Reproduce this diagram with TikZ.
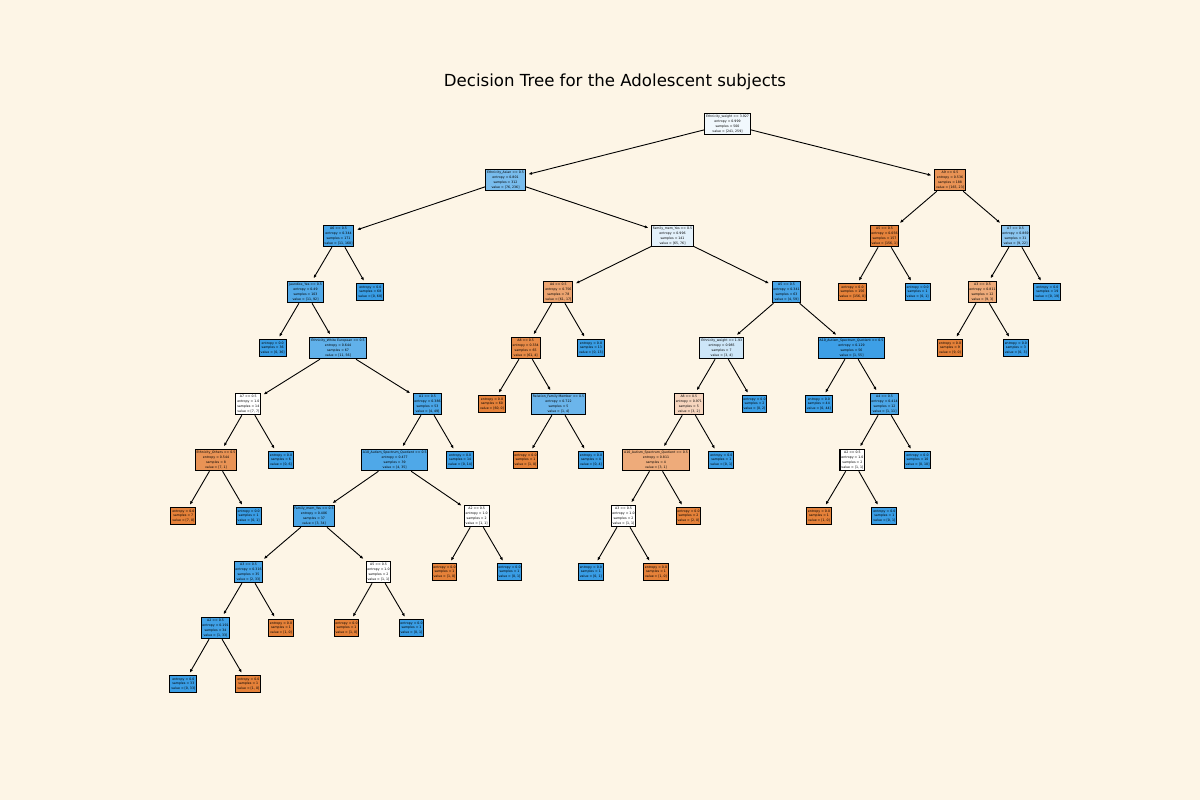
\documentclass[tikz,border=0pt]{standalone}
\usepackage{fontspec}
\setmainfont{DejaVu Sans}
\usetikzlibrary{arrows.meta}
\definecolor{bgc}{RGB}{253,245,230}
\definecolor{cO}{RGB}{229,129,57}
\definecolor{cB}{RGB}{57,157,229}
\tikzset{
  tn/.style={draw=black, line width=0.75pt, rectangle, align=center, inner xsep=1pt, inner ysep=1.5pt,
             font=\fontsize{2.3}{3.5}\selectfont},
  conn/.style={line width=0.65pt, -{Latex[length=2.6pt,width=2.2pt]}, shorten >=2pt},
}
\begin{document}
\begin{tikzpicture}[x=0.7227pt, y=-0.7227pt]
\fill[bgc] (0,0) rectangle (1200,800);
\useasboundingbox (0,0) rectangle (1200,800);
\node[font=\fontsize{12}{14}\selectfont] (title) at (615,82) {Decision Tree for the Adolescent subjects};
% level 0
\node[tn, fill=cB!7!white] (n0) at (727.5,124) {Ethnicity\_weight <= 3.927\\entropy = 0.999\\samples = 500\\value = [241, 259]};
% level 1
\node[tn, fill=cB!68!white] (n1) at (505.5,180) {Ethnicity\_Asian <= 0.5\\entropy = 0.801\\samples = 312\\value = [76, 236]};
\node[tn, fill=cO!86!white] (n2) at (950,180) {A9 <= 0.5\\entropy = 0.536\\samples = 188\\value = [165, 23]};
% level 2
\node[tn, fill=cB!93!white] (n3) at (338.5,236) {A6 <= 0.5\\entropy = 0.344\\samples = 171\\value = [11, 160]};
\node[tn, fill=cB!14!white] (n4) at (672.5,236) {Family\_mem\_Yes <= 0.5\\entropy = 0.996\\samples = 141\\value = [65, 76]};
\node[tn, fill=cO!99!white] (n5) at (884.5,236) {A5 <= 0.5\\entropy = 0.056\\samples = 157\\value = [156, 1]};
\node[tn, fill=cB!59!white] (n6) at (1015.5,236) {A7 <= 0.5\\entropy = 0.869\\samples = 31\\value = [9, 22]};
% level 3
\node[tn, fill=cB!88!white] (n7) at (305.5,292) {Jaundice\_Yes <= 0.5\\entropy = 0.49\\samples = 103\\value = [11, 92]};
\node[tn, fill=cB] (n8) at (370.3,292) {entropy = 0.0\\samples = 68\\value = [0, 68]};
\node[tn, fill=cO!72!white] (n9) at (558.3,292) {A4 <= 0.5\\entropy = 0.756\\samples = 78\\value = [61, 17]};
\node[tn, fill=cB!93!white] (n10) at (786.5,292) {A5 <= 0.5\\entropy = 0.341\\samples = 63\\value = [4, 59]};
\node[tn, fill=cO] (n11) at (852.5,292) {entropy = 0.0\\samples = 156\\value = [156, 0]};
\node[tn, fill=cB] (n12) at (917.7,292) {entropy = 0.0\\samples = 1\\value = [0, 1]};
\node[tn, fill=cO!67!white] (n13) at (982.5,292) {A3 <= 0.5\\entropy = 0.811\\samples = 12\\value = [9, 3]};
\node[tn, fill=cB] (n14) at (1047.3,292) {entropy = 0.0\\samples = 19\\value = [0, 19]};
% level 4
\node[tn, fill=cB] (n15) at (272.7,348) {entropy = 0.0\\samples = 36\\value = [0, 36]};
\node[tn, fill=cB!80!white] (n16) at (338,348) {Ethnicity\_White European <= 0.5\\entropy = 0.644\\samples = 67\\value = [11, 56]};
\node[tn, fill=cO!93!white] (n17) at (525.7,348) {A8 <= 0.5\\entropy = 0.334\\samples = 65\\value = [61, 4]};
\node[tn, fill=cB] (n18) at (591,348) {entropy = 0.0\\samples = 13\\value = [0, 13]};
\node[tn, fill=cB!25!white] (n19) at (721.7,348) {Ethnicity\_weight <= 1.93\\entropy = 0.985\\samples = 7\\value = [3, 4]};
\node[tn, fill=cB!98!white] (n20) at (851.5,348) {A10\_Autism\_Spectrum\_Quotient <= 0.5\\entropy = 0.129\\samples = 56\\value = [1, 55]};
\node[tn, fill=cO] (n21) at (950,348) {entropy = 0.0\\samples = 9\\value = [9, 0]};
\node[tn, fill=cB] (n22) at (1015.8,348) {entropy = 0.0\\samples = 3\\value = [0, 3]};
% level 5
\node[tn, fill=white] (n23) at (248.3,404) {A7 <= 0.5\\entropy = 1.0\\samples = 14\\value = [7, 7]};
\node[tn, fill=cB!92!white] (n24) at (427.5,404) {A1 <= 0.5\\entropy = 0.386\\samples = 53\\value = [4, 49]};
\node[tn, fill=cO] (n25) at (492,404) {entropy = 0.0\\samples = 60\\value = [60, 0]};
\node[tn, fill=cB!75!white] (n26) at (558.5,404) {Relation\_Family Member <= 0.5\\entropy = 0.722\\samples = 5\\value = [1, 4]};
\node[tn, fill=cO!33!white] (n27) at (688.8,404) {A8 <= 0.5\\entropy = 0.971\\samples = 5\\value = [3, 2]};
\node[tn, fill=cB] (n28) at (754.5,404) {entropy = 0.0\\samples = 2\\value = [0, 2]};
\node[tn, fill=cB] (n29) at (818.8,404) {entropy = 0.0\\samples = 44\\value = [0, 44]};
\node[tn, fill=cB!91!white] (n30) at (884.5,404) {A4 <= 0.5\\entropy = 0.414\\samples = 12\\value = [1, 11]};
% level 6
\node[tn, fill=cO!86!white] (n31) at (216,460) {Ethnicity\_Others <= 0.5\\entropy = 0.544\\samples = 8\\value = [7, 1]};
\node[tn, fill=cB] (n32) at (281,460) {entropy = 0.0\\samples = 6\\value = [0, 6]};
\node[tn, fill=cB!89!white] (n33) at (394.7,460) {A10\_Autism\_Spectrum\_Quotient <= 0.5\\entropy = 0.477\\samples = 39\\value = [4, 35]};
\node[tn, fill=cB] (n34) at (460.2,460) {entropy = 0.0\\samples = 14\\value = [0, 14]};
\node[tn, fill=cO] (n35) at (525.5,460) {entropy = 0.0\\samples = 1\\value = [1, 0]};
\node[tn, fill=cB] (n36) at (591,460) {entropy = 0.0\\samples = 4\\value = [0, 4]};
\node[tn, fill=cO!67!white] (n37) at (656,460) {A10\_Autism\_Spectrum\_Quotient <= 0.5\\entropy = 0.811\\samples = 4\\value = [3, 1]};
\node[tn, fill=cB] (n38) at (721.3,460) {entropy = 0.0\\samples = 1\\value = [0, 1]};
\node[tn, fill=white] (n39) at (852.4,460) {A2 <= 0.5\\entropy = 1.0\\samples = 2\\value = [1, 1]};
\node[tn, fill=cB] (n40) at (917.5,460) {entropy = 0.0\\samples = 10\\value = [0, 10]};
% level 7
\node[tn, fill=cO] (n41) at (183.3,516) {entropy = 0.0\\samples = 7\\value = [7, 0]};
\node[tn, fill=cB] (n42) at (248.7,516) {entropy = 0.0\\samples = 1\\value = [0, 1]};
\node[tn, fill=cB!91!white] (n43) at (314,516) {Family\_mem\_Yes <= 0.5\\entropy = 0.406\\samples = 37\\value = [3, 34]};
\node[tn, fill=white] (n44) at (476.7,516) {A2 <= 0.5\\entropy = 1.0\\samples = 2\\value = [1, 1]};
\node[tn, fill=white] (n45) at (623.5,516) {A3 <= 0.5\\entropy = 1.0\\samples = 2\\value = [1, 1]};
\node[tn, fill=cO] (n46) at (688.5,516) {entropy = 0.0\\samples = 2\\value = [2, 0]};
\node[tn, fill=cO] (n47) at (819,516) {entropy = 0.0\\samples = 1\\value = [1, 0]};
\node[tn, fill=cB] (n48) at (884.3,516) {entropy = 0.0\\samples = 1\\value = [0, 1]};
% level 8
\node[tn, fill=cB!94!white] (n49) at (248.5,572) {A3 <= 0.5\\entropy = 0.316\\samples = 35\\value = [2, 33]};
\node[tn, fill=white] (n50) at (378.5,572) {A5 <= 0.5\\entropy = 1.0\\samples = 2\\value = [1, 1]};
\node[tn, fill=cO] (n51) at (444.5,572) {entropy = 0.0\\samples = 1\\value = [1, 0]};
\node[tn, fill=cB] (n52) at (509.5,572) {entropy = 0.0\\samples = 1\\value = [0, 1]};
\node[tn, fill=cB] (n53) at (590.8,572) {entropy = 0.0\\samples = 1\\value = [0, 1]};
\node[tn, fill=cO] (n54) at (656,572) {entropy = 0.0\\samples = 1\\value = [1, 0]};
% level 9
\node[tn, fill=cB!97!white] (n55) at (215.5,628) {A2 <= 0.5\\entropy = 0.191\\samples = 34\\value = [1, 33]};
\node[tn, fill=cO] (n56) at (281,628) {entropy = 0.0\\samples = 1\\value = [1, 0]};
\node[tn, fill=cO] (n57) at (346.5,628) {entropy = 0.0\\samples = 1\\value = [1, 0]};
\node[tn, fill=cB] (n58) at (411.5,628) {entropy = 0.0\\samples = 1\\value = [0, 1]};
% level 10
\node[tn, fill=cB] (n59) at (183.3,684) {entropy = 0.0\\samples = 33\\value = [0, 33]};
\node[tn, fill=cO] (n60) at (248.3,684) {entropy = 0.0\\samples = 1\\value = [1, 0]};
% connectors
\foreach \p/\c in {n0/n1,n0/n2,n1/n3,n1/n4,n2/n5,n2/n6,n3/n7,n3/n8,n4/n9,n4/n10,
  n5/n11,n5/n12,n6/n13,n6/n14,n7/n15,n7/n16,n9/n17,n9/n18,n10/n19,n10/n20,
  n13/n21,n13/n22,n16/n23,n16/n24,n17/n25,n17/n26,n19/n27,n19/n28,n20/n29,n20/n30,
  n23/n31,n23/n32,n24/n33,n24/n34,n26/n35,n26/n36,n27/n37,n27/n38,n30/n39,n30/n40,
  n31/n41,n31/n42,n33/n43,n33/n44,n37/n45,n37/n46,n39/n47,n39/n48,n43/n49,n43/n50,
  n44/n51,n44/n52,n45/n53,n45/n54,n49/n55,n49/n56,n50/n57,n50/n58,n55/n59,n55/n60}
  \draw[conn] (\p) -- (\c);
\end{tikzpicture}
\end{document}
